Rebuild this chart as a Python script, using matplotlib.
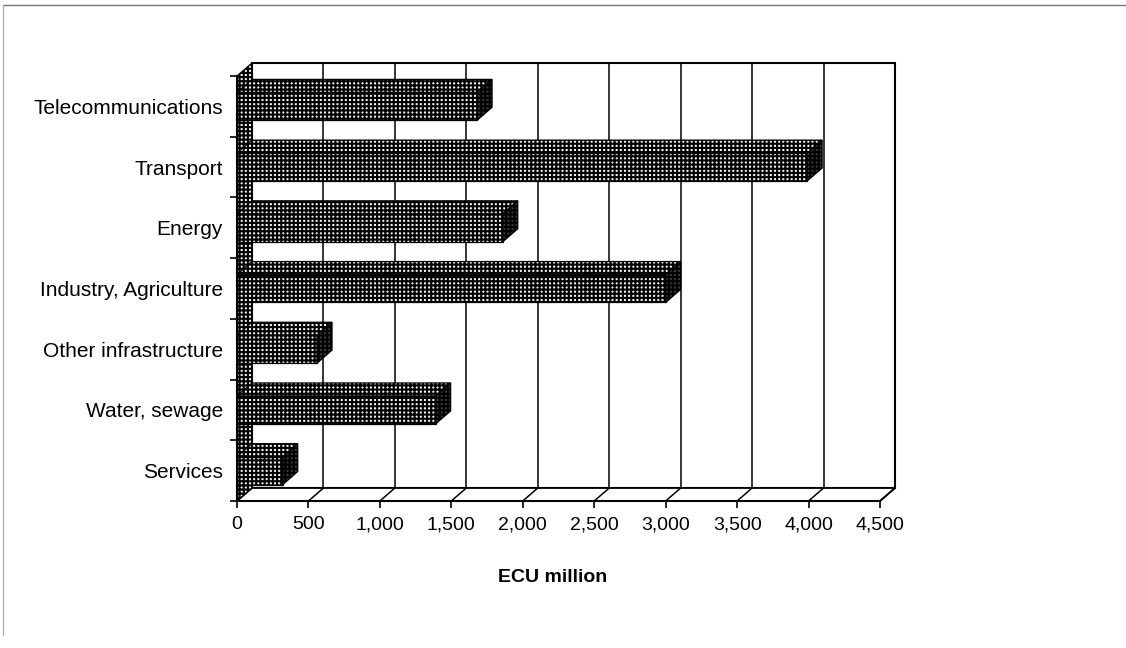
import numpy as np
import matplotlib
matplotlib.use("Agg")
import matplotlib.pyplot as plt
from matplotlib.patches import Polygon

plt.rcParams['font.family'] = ['Liberation Sans', 'DejaVu Sans']
plt.rcParams['hatch.linewidth'] = 1.5

# data, bottom to top as drawn
sectors = ["Services", "Water, sewage", "Other infrastructure", "Industry, Agriculture",
           "Energy", "Transport", "Telecommunications"]
ecu_million = [320, 1390, 560, 3000, 1860, 3990, 1680]
x_ticks = [0, 500, 1000, 1500, 2000, 2500, 3000, 3500, 4000, 4500]

W, H = 1126, 648
XMAX = 4500
# depth of the pseudo 3d box, in data units
DX = 15 * XMAX / 643
DY = 13 * 7 / 425
BAR_H = 0.46
HATCH = '++++'


def poly(ax, pts, **kw):
  p = Polygon(pts, closed=True, clip_on=False, **kw)
  ax.add_patch(p)
  return p


def draw_box(ax, n):
  y0, y1 = -0.5, n - 0.5
  # back wall
  poly(ax, [(DX, y0 + DY), (XMAX + DX, y0 + DY), (XMAX + DX, y1 + DY), (DX, y1 + DY)],
       facecolor='white', edgecolor='black', linewidth=1.5, zorder=1)
  for t in x_ticks[1:-1]:
    ax.plot([t + DX, t + DX], [y0 + DY, y1 + DY], color='black', lw=1.1, clip_on=False, zorder=1.5)
  # floor
  poly(ax, [(0, y0), (XMAX, y0), (XMAX + DX, y0 + DY), (DX, y0 + DY)],
       facecolor='white', edgecolor='black', linewidth=1.3, zorder=1.6)
  for t in x_ticks[1:]:
    ax.plot([t, t + DX], [y0, y0 + DY], color='black', lw=1.1, clip_on=False, zorder=1.7)
  # left side wall
  poly(ax, [(0, y0), (DX, y0 + DY), (DX, y1 + DY), (0, y1)],
       facecolor='#f0f0f0', edgecolor='black', hatch=HATCH, linewidth=0.9, zorder=1.8)


def draw_bars(ax):
  for i, v in enumerate(ecu_million):
    lo, hi = i - BAR_H / 2, i + BAR_H / 2
    ax.barh(i, v, height=BAR_H, left=0, color='#f0f0f0', edgecolor='black',
            hatch=HATCH, linewidth=0.9, zorder=3)
    # top face
    poly(ax, [(0, hi), (v, hi), (v + DX, hi + DY), (DX, hi + DY)],
         facecolor='#f8f8f8', edgecolor='black', hatch=HATCH, linewidth=0.9, zorder=3)
    # end face
    poly(ax, [(v, lo), (v + DX, lo + DY), (v + DX, hi + DY), (v, hi)],
         facecolor='#3a3a3a', edgecolor='black', hatch=HATCH, linewidth=0.9, zorder=3)


fig = plt.figure(figsize=(W / 100, H / 100), dpi=100)
ax = fig.add_axes([237 / W, (H - 501) / H, (880 - 237) / W, (501 - 76) / H])
ax.set_xlim(0, XMAX)
ax.set_ylim(-0.5, len(sectors) - 0.5)

draw_box(ax, len(sectors))
draw_bars(ax)

for s in ['top', 'right']:
  ax.spines[s].set_visible(False)
for s in ['left', 'bottom']:
  ax.spines[s].set_linewidth(1.5)
  ax.spines[s].set_zorder(4)

ax.set_xticks(x_ticks)
ax.set_xticklabels([f"{t:,}" for t in x_ticks], fontsize=14)
ax.tick_params(axis='x', direction='out', length=5, width=1.2, pad=6)

ax.set_yticks(range(len(sectors)))
ax.set_yticklabels(sectors, fontsize=15)
ax.set_yticks(np.arange(-0.5, len(sectors)), minor=True)
ax.tick_params(axis='y', which='major', length=0, pad=10)
ax.tick_params(axis='y', which='minor', direction='out', length=5, width=1.2)

fig.text(553 / W, 1 - 577 / H, "ECU million", ha='center', va='center',
         fontsize=14, fontweight='bold')

# outer frame of the scanned page
fig.add_artist(plt.Line2D([3 / W, 1], [1 - 5 / H, 1 - 5 / H], color='#777777', lw=1.0))
fig.add_artist(plt.Line2D([3 / W, 3 / W], [0.02, 1 - 5 / H], color='#aaaaaa', lw=0.8))

fig.savefig("out.png", dpi=100, facecolor='white')
